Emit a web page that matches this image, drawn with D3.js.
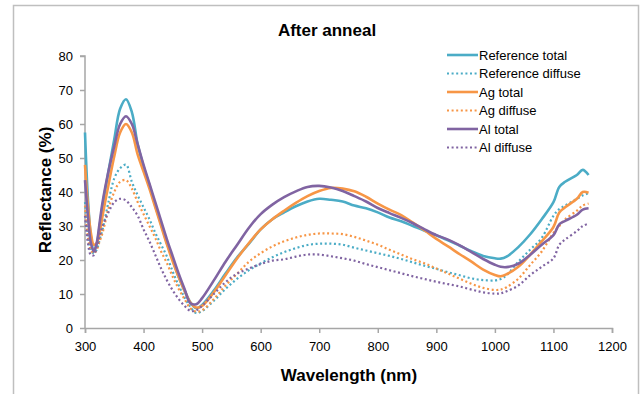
<!DOCTYPE html>
<html>
<head>
<meta charset="utf-8">
<script src="https://cdn.jsdelivr.net/npm/d3@7"></script>
<style>
  body { margin: 0; background: #fff; }
  svg { font-family: "Liberation Sans", Arial, sans-serif; }
</style>
</head>
<body>
<div id="chart"></div>
<script>
// wavelength grid (nm)
const wavelengths = [300, 305, 310, 315, 320, 325, 330, 340, 350, 360, 370, 380, 390, 400, 410, 420, 430, 440, 450, 460, 470, 480, 490, 500,
  520, 540, 560, 580, 600, 620, 640, 660, 680, 700, 720, 740, 760, 780, 800, 820, 840, 860, 880, 900, 920, 940, 960, 980,
  1000, 1010, 1020, 1040, 1060, 1080, 1100, 1110, 1120, 1140, 1150, 1160];

const refTotal = [57.5, 38, 27, 22.5, 24.5, 30, 36, 46, 55.5, 64.5, 67.3, 63.5, 54, 47.5, 42, 36, 30.5, 25, 20, 15, 11, 7.5, 5.8, 6.8,
  11, 16, 20.8, 24.8, 29, 32, 34, 35.8, 37.2, 38, 37.7, 37.2, 36, 35.2, 34, 32.5, 31.4, 30, 28.6, 27.3, 25.8, 24.2, 22.6, 21.2,
  20.5, 20.4, 21, 23.8, 27.5, 32, 37, 41.5, 43, 45, 46.5, 45];
const refDiffuse = [37, 28, 23, 22, 23, 26, 29, 37, 44, 47, 48, 43, 39, 35.5, 32, 28, 24.5, 21, 16.5, 12.5, 9, 6.2, 4.4, 5,
  8, 11.5, 14.5, 17, 19, 20.8, 22.3, 23.5, 24.4, 24.8, 24.8, 24.5, 23.6, 22.8, 22, 21.2, 20.3, 19.3, 18.3, 17.4, 16.4, 15.5, 14.6, 14.1,
  14, 14.4, 15.5, 19.5, 23, 26.5, 33, 35, 36, 38, 39, 39.6];
const agTotal = [48, 36, 28, 24.5, 25, 28, 33, 42, 50.5, 57.5, 60, 57.5, 51, 46, 41, 35.5, 30, 24.5, 19.5, 15, 11, 7.5, 6, 6.5,
  10.5, 15.5, 20.5, 25, 29, 32, 34.5, 36.8, 38.8, 40.3, 41.2, 41, 40.2, 38.6, 36.6, 34.8, 33.2, 31, 28.7, 26.2, 24, 21.7, 19.5, 17.2,
  15.6, 15.2, 15.8, 18, 21.5, 25.5, 29.7, 34, 35.5, 38, 40, 39.8];
const agDiffuse = [36, 27, 23, 22, 23, 25.5, 28, 35, 40, 43, 43.5, 41, 37, 33.5, 30, 26.5, 22.5, 19, 15, 11.5, 8.5, 5.8, 4.8, 5.2,
  8.5, 12.5, 16, 19.5, 22, 24, 25.5, 26.6, 27.4, 27.8, 27.8, 27.6, 26.8, 25.7, 24.5, 23, 21.6, 20.2, 19, 17.5, 16, 14.5, 13, 11.8,
  11.2, 11.3, 12, 14.5, 18.5, 22.5, 28, 30, 32, 34.5, 36, 36.6];
const alTotal = [43.5, 33, 25, 22.5, 25, 31, 37, 46, 53.5, 60, 62.3, 60, 54, 48, 42.5, 37, 31.5, 26, 21, 16, 11.5, 7.3, 7, 8.8,
  14, 19.5, 24.5, 29.5, 33.5, 36.3, 38.5, 40.2, 41.5, 41.8, 41.3, 40.3, 38.8, 37.2, 35.3, 33.8, 32.4, 30.8, 29, 27.3, 26, 24.3, 22.3, 20.3,
  18.6, 18, 17.9, 18.9, 21.5, 24.5, 27.3, 30.5, 31.5, 33.3, 34.8, 35.2];
const alDiffuse = [33, 25, 21.5, 21.4, 24, 27, 30, 34, 37, 38, 37.5, 35.5, 33, 29, 25.5, 21.5, 17.5, 14, 11, 8.5, 6.5, 5, 5.2, 6.5,
  10, 13.5, 16, 17.5, 18.8, 19.8, 20.2, 21, 21.6, 21.6, 21.1, 20.5, 19.8, 18.8, 17.9, 17, 16.1, 15.2, 14.4, 13.6, 12.9, 12.2, 11.3, 10.5,
  10.1, 10.2, 10.8, 12.5, 15.5, 18, 20.5, 24.5, 26, 28.5, 30, 30.7];

const seriesNames = ["Reference total", "Reference diffuse", "Ag total", "Ag diffuse", "Al total", "Al diffuse"];
const seriesValues = [refTotal, refDiffuse, agTotal, agDiffuse, alTotal, alDiffuse];
const seriesColors = ["#4bacc6", "#4bacc6", "#f79646", "#f79646", "#8064a2", "#8064a2"];
const seriesDotted = [false, true, false, true, false, true];

const xTicks = [300, 400, 500, 600, 700, 800, 900, 1000, 1100, 1200];
const yTicks = [0, 10, 20, 30, 40, 50, 60, 70, 80];

const size = { width: 641, height: 394 };
const plot = { left: 85, right: 612, top: 56, bottom: 328 };

const svg = d3.select("#chart").append("svg")
    .attr("width", size.width)
    .attr("height", size.height);

// chart frame
svg.append("rect")
    .attr("x", 13.5).attr("y", 5.5)
    .attr("width", 625).attr("height", 400)
    .attr("fill", "#fff")
    .attr("stroke", "#bfbfbf")
    .attr("stroke-width", 1.5);

const xScale = d3.scaleLinear().domain([300, 1200]).range([plot.left, plot.right]);
const yScale = d3.scaleLinear().domain([0, 80]).range([plot.bottom, plot.top]);

const xAxis = svg.append("g")
    .attr("transform", "translate(0," + plot.bottom + ")")
    .call(d3.axisBottom(xScale).tickValues(xTicks).tickSize(5).tickPadding(9).tickFormat(d3.format("d")));
const yAxis = svg.append("g")
    .attr("transform", "translate(" + plot.left + ",0)")
    .call(d3.axisLeft(yScale).tickValues(yTicks).tickSize(5).tickPadding(7));

[xAxis, yAxis].forEach(function (g) {
    g.select(".domain").attr("stroke", "#a6a6a6").attr("stroke-width", 1.5);
    g.selectAll(".tick line").attr("stroke", "#a6a6a6").attr("stroke-width", 1.5);
    g.selectAll(".tick text")
        .attr("fill", "#000")
        .style("font-size", "13px")
        .style("font-family", "'Liberation Sans', Arial, sans-serif");
});
yAxis.select(".domain").attr("d", "M-5," + plot.top + "H0V" + plot.bottom);

const line = d3.line()
    .x(d => xScale(d[0]))
    .y(d => yScale(d[1]))
    .curve(d3.curveCatmullRom.alpha(0.5));

seriesValues.forEach(function (vals, i) {
    const pts = wavelengths.map((w, j) => [w, vals[j]]);
    svg.append("path")
        .datum(pts)
        .attr("fill", "none")
        .attr("stroke", seriesColors[i])
        .attr("stroke-width", seriesDotted[i] ? 2.2 : 2.6)
        .attr("stroke-dasharray", seriesDotted[i] ? "2,2.6" : null)
        .attr("stroke-linejoin", "round")
        .attr("d", line);
});

// titles
svg.append("text")
    .attr("x", 327).attr("y", 36)
    .attr("text-anchor", "middle")
    .style("font-size", "17px").style("font-weight", "bold")
    .text("After anneal");

svg.append("text")
    .attr("x", 349).attr("y", 381)
    .attr("text-anchor", "middle")
    .style("font-size", "17px").style("font-weight", "bold")
    .text("Wavelength (nm)");

svg.append("text")
    .attr("transform", "translate(51,190) rotate(-90)")
    .attr("text-anchor", "middle")
    .style("font-size", "17px").style("font-weight", "bold")
    .text("Reflectance (%)");

// legend
const legend = svg.append("g").attr("transform", "translate(447,55)");
seriesNames.forEach(function (name, i) {
    const row = legend.append("g").attr("transform", "translate(0," + (i * 18.5) + ")");
    row.append("line")
        .attr("x1", 0).attr("x2", 31).attr("y1", 0).attr("y2", 0)
        .attr("stroke", seriesColors[i])
        .attr("stroke-width", seriesDotted[i] ? 2.2 : 2.6)
        .attr("stroke-dasharray", seriesDotted[i] ? "2,2.6" : null);
    row.append("text")
        .attr("x", 32).attr("y", 4.5)
        .style("font-size", "13px")
        .text(name);
});
</script>
</body>
</html>
